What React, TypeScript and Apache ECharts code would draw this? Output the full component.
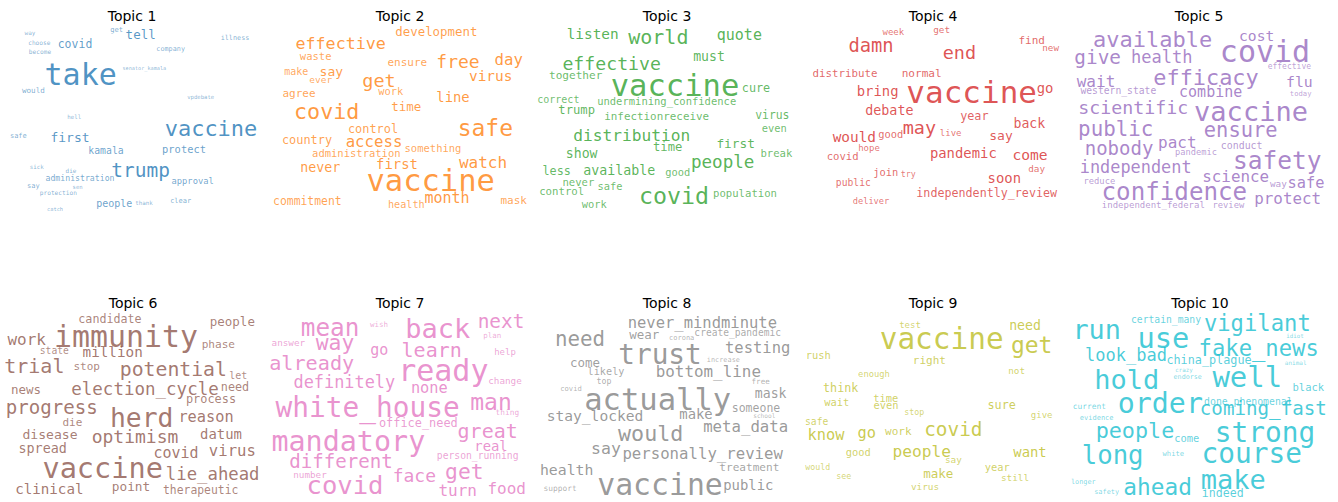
import React, { useEffect, useRef } from "react";
import * as echarts from "echarts";

type W = [string, number, number, number];

// word, x, y (layout units of each panel), weight (font px)
const topic1Words: W[] = [
  ["way", 60, 96, 6], ["choose", 88, 127, 6.2], ["become", 90, 153, 6.2], ["covid", 195, 132, 11.5],
  ["get", 320, 88, 7.2], ["tell", 392, 102, 12.5], ["company", 482, 148, 6.8], ["illness", 675, 113, 6.8],
  ["take", 212, 222, 30], ["senator_kamala", 403, 204, 5.2], ["would", 70, 272, 7.6], ["vpdebate", 572, 290, 5.6],
  ["hell", 193, 352, 5.8], ["vaccine", 603, 385, 22], ["safe", 25, 409, 7], ["first", 180, 412, 13],
  ["kamala", 288, 452, 9.8], ["protect", 522, 447, 10.4], ["sick", 80, 502, 5.8], ["die", 183, 511, 6],
  ["trump", 392, 512, 19.5], ["administration", 210, 534, 8.2], ["approval", 548, 542, 8.8], ["say", 70, 557, 7],
  ["sen", 203, 560, 5.6], ["protection", 145, 577, 6.2], ["people", 313, 610, 10], ["thank", 402, 610, 5.8],
  ["clear", 512, 602, 7], ["catch", 135, 626, 5.4],
];
const topic2Words: W[] = [
  ["development", 505, 93, 12.4], ["effective", 218, 130, 16.7], ["waste", 143, 167, 10.5], ["ensure", 418, 188, 11],
  ["free", 570, 183, 18], ["day", 722, 178, 15.7], ["make", 85, 215, 10], ["say", 190, 213, 13],
  ["ever", 158, 238, 9.5], ["get", 333, 240, 18.5], ["virus", 668, 228, 14.4], ["work", 368, 273, 10.4],
  ["agree", 93, 281, 11], ["line", 555, 290, 13.9], ["covid", 176, 333, 21.7], ["time", 415, 318, 12.5],
  ["safe", 652, 385, 23], ["control", 315, 387, 11.9], ["country", 117, 421, 11.9], ["access", 318, 425, 15.7],
  ["something", 495, 443, 10.5], ["administration", 265, 458, 10.5], ["never", 157, 503, 13.3], ["first", 387, 493, 13.9],
  ["watch", 645, 488, 16], ["vaccine", 488, 542, 30.5], ["month", 537, 595, 15], ["commitment", 118, 603, 11.4],
  ["health", 415, 612, 10.2], ["mask", 737, 600, 11],
];
const topic3Words: W[] = [
  ["listen", 188, 103, 14.4], ["world", 385, 112, 20], ["quote", 628, 106, 15], ["must", 537, 170, 13.2],
  ["effective", 245, 190, 18.2], ["together", 137, 225, 11.1], ["vaccine", 435, 255, 30.5], ["cure", 678, 265, 11.8],
  ["correct", 85, 297, 10], ["undermining_confidence", 410, 302, 10.5], ["trump", 140, 331, 12.2], ["infectionreceive", 380, 350, 10.9],
  ["virus", 727, 345, 11.4], ["even", 733, 385, 10.4], ["distribution", 305, 405, 16.2], ["time", 413, 440, 12.2],
  ["first", 617, 430, 12.8], ["show", 155, 460, 13.2], ["break", 739, 460, 10.6], ["people", 578, 487, 17.6],
  ["less", 80, 513, 11.8], ["available", 268, 512, 13.3], ["good", 443, 515, 10.4], ["never", 145, 546, 10.6],
  ["safe", 240, 558, 10.4], ["control", 95, 575, 10.7], ["covid", 432, 585, 23.3], ["population", 645, 580, 10.6],
  ["work", 193, 613, 10.4],
];
const topic4Words: W[] = [
  ["week", 295, 97, 9], ["get", 440, 88, 9.3], ["find", 710, 122, 11], ["new", 767, 143, 9.3],
  ["damn", 228, 135, 18.8], ["end", 493, 157, 18.5], ["distribute", 150, 221, 10.8], ["normal", 380, 221, 11.1],
  ["bring", 248, 272, 13.9], ["vaccine", 530, 275, 31], ["go", 750, 263, 13.9], ["debate", 283, 332, 13.4],
  ["year", 538, 348, 11.8], ["may", 373, 382, 18.5], ["back", 703, 370, 13.2], ["would", 178, 410, 14.4],
  ["good", 287, 402, 10.4], ["live", 467, 400, 9], ["say", 618, 405, 13], ["hope", 222, 444, 9],
  ["covid", 143, 467, 10.6], ["pandemic", 505, 458, 13.9], ["come", 705, 462, 14.6], ["day", 725, 506, 9.3],
  ["join", 272, 515, 10.4], ["try", 340, 522, 8.3], ["soon", 628, 535, 13.9], ["public", 175, 548, 9.7],
  ["independently_review", 575, 580, 11.7], ["deliver", 228, 602, 8.7],
];
const topic5Words: W[] = [
  ["available", 278, 117, 22], ["cost", 590, 105, 14.6], ["covid", 615, 155, 30], ["give", 113, 173, 19.4],
  ["health", 305, 172, 17], ["effective", 688, 198, 8], ["efficacy", 438, 233, 21.9], ["wait", 108, 243, 16],
  ["flu", 718, 245, 14.8], ["western_state", 175, 272, 9.7], ["combine", 452, 277, 15], ["today", 722, 281, 7.2],
  ["scientific", 220, 322, 18.3], ["vaccine", 573, 335, 27], ["public", 167, 388, 20.8], ["ensure", 542, 390, 20.4],
  ["pact", 352, 427, 16], ["nobody", 177, 445, 19], ["conduct", 545, 435, 9.9], ["pandemic", 408, 456, 8.7],
  ["safety", 652, 480, 24.5], ["independent", 227, 502, 16.9], ["science", 527, 530, 15.9], ["reduce", 118, 543, 8.8],
  ["way", 655, 550, 9.3], ["safe", 738, 550, 15.3], ["confidence", 343, 575, 24.2], ["protect", 683, 595, 15.9],
  ["independent_federal", 280, 615, 9], ["review", 505, 615, 8.8],
];
const topic6Words: W[] = [
  ["candidate", 330, 87, 11.7], ["people", 697, 95, 12.5], ["immunity", 378, 138, 29.9], ["work", 80, 147, 16],
  ["phase", 655, 163, 11.1], ["state", 163, 180, 9.7], ["million", 338, 185, 14.3], ["trial", 103, 228, 20],
  ["stop", 260, 230, 11], ["potential", 520, 238, 19.8], ["let", 715, 255, 10], ["news", 78, 298, 12.5],
  ["election_cycle", 435, 298, 17.5], ["need", 705, 291, 11.8], ["process", 633, 328, 11.9], ["progress", 155, 353, 19.1],
  ["herd", 425, 382, 26.4], ["reason", 618, 380, 15.3], ["die", 217, 397, 11], ["disease", 150, 433, 13.1],
  ["optimism", 405, 440, 18], ["datum", 663, 432, 13.9], ["spread", 128, 475, 13.4], ["covid", 528, 488, 15],
  ["virus", 697, 483, 15.6], ["vaccine", 308, 535, 28.6], ["lie_ahead", 638, 553, 17.3], ["clinical", 148, 597, 14.2],
  ["point", 393, 588, 12.8], ["therapeutic", 602, 600, 11.4],
];
const topic7Words: W[] = [
  ["mean", 195, 112, 24.3], ["wish", 342, 103, 7.5], ["back", 518, 115, 27], ["next", 708, 95, 19.4],
  ["answer", 70, 157, 9.3], ["way", 210, 157, 21.3], ["plan", 682, 136, 7.5], ["go", 343, 180, 15],
  ["learn", 500, 180, 20], ["help", 720, 187, 9], ["already", 140, 218, 20.2], ["ready", 535, 240, 30],
  ["definitely", 238, 277, 16.9], ["change", 720, 272, 9.3], ["none", 493, 295, 15.3], ["white_house", 308, 353, 27.8],
  ["man", 678, 335, 23], ["thing", 727, 368, 7.8], ["office_need", 460, 400, 11.9], ["great", 668, 423, 20],
  ["mandatory", 250, 455, 28.4], ["real", 678, 468, 13.9], ["person_running", 638, 497, 9.7], ["different", 228, 513, 19.1],
  ["number", 135, 552, 9.3], ["face", 448, 555, 18], ["get", 598, 545, 21.3], ["covid", 240, 585, 25.6],
  ["turn", 578, 600, 16], ["food", 725, 595, 16],
];
const topic8Words: W[] = [
  ["never_mindminute", 517, 100, 15.5], ["need", 150, 148, 20.8], ["wear", 343, 133, 12.5], ["corona", 455, 143, 7],
  ["create_pandemic", 623, 128, 9.6], ["trust", 390, 193, 27.8], ["testing", 683, 173, 15.5], ["come", 165, 217, 12.5],
  ["increase", 580, 209, 6.9], ["likely", 228, 245, 10.2], ["bottom_line", 535, 243, 15.9], ["top", 222, 272, 8.3],
  ["free", 692, 275, 7.6], ["covid", 123, 294, 7.2], ["actually", 383, 328, 30.5], ["mask", 722, 310, 13.2],
  ["someone", 678, 353, 11.5], ["stay_locked", 195, 375, 14.6], ["make", 498, 372, 13.9], ["school", 703, 377, 6.2],
  ["meta_data", 647, 410, 15.7], ["would", 362, 430, 21.7], ["say", 228, 475, 16.5], ["personally_review", 518, 490, 15.7],
  ["health", 110, 537, 14.8], ["treatment", 658, 532, 11.1], ["vaccine", 390, 583, 29.8], ["public", 655, 585, 13.9],
  ["support", 90, 595, 7.9],
];
const topic9Words: W[] = [
  ["test", 345, 105, 9], ["vaccine", 440, 148, 29.4], ["need", 690, 107, 13.2], ["get", 710, 165, 23],
  ["rush", 70, 195, 10.4], ["right", 403, 212, 11], ["enough", 237, 253, 8.8], ["not", 665, 240, 9.3],
  ["think", 137, 293, 11.7], ["time", 272, 325, 10.4], ["wait", 125, 336, 10.4], ["even", 273, 346, 10.4],
  ["sure", 620, 345, 11.8], ["stop", 358, 365, 8.3], ["give", 740, 376, 9], ["safe", 65, 395, 9.7],
  ["know", 93, 435, 15.3], ["go", 215, 430, 15.3], ["work", 310, 423, 11], ["covid", 475, 418, 19.4],
  ["good", 190, 485, 10.4], ["people", 380, 483, 16.2], ["want", 705, 485, 13.9], ["say", 475, 508, 9.3],
  ["would", 68, 530, 8.3], ["make", 430, 550, 12.5], ["year", 607, 530, 10.4], ["see", 146, 557, 8.3],
  ["still", 660, 563, 9.4], ["virus", 390, 588, 9.4],
];
const topic10Words: W[] = [
  ["certain_many", 318, 88, 9.7], ["run", 110, 118, 26.9], ["use", 310, 143, 28.7], ["vigilant", 592, 98, 22.2],
  ["idiot", 705, 137, 5.8], ["fake_news", 596, 173, 22.2], ["look_bad", 198, 195, 17], ["china_plague", 447, 210, 11.8],
  ["animal", 707, 218, 6], ["crazy", 372, 240, 5.8], ["hold", 200, 268, 27], ["well", 562, 262, 29],
  ["endorse", 383, 262, 6.7], ["black", 745, 290, 10.5], ["done_phenomenal", 565, 334, 9.8], ["current", 88, 349, 7.9],
  ["order", 301, 339, 28.3], ["coming_fast", 610, 354, 19.2], ["evidence", 110, 385, 7], ["people", 225, 420, 21.8],
  ["strong", 615, 428, 27.8], ["come", 380, 445, 10.4], ["long", 158, 495, 25.7], ["white", 340, 490, 7.2],
  ["course", 575, 490, 27.8], ["longer", 70, 576, 6.9], ["make", 520, 568, 27], ["ahead", 293, 592, 22.8],
  ["safety", 140, 606, 6.9], ["indeed", 488, 608, 11.6],
];

const topicTitles = ["Topic 1", "Topic 2", "Topic 3", "Topic 4", "Topic 5", "Topic 6", "Topic 7", "Topic 8", "Topic 9", "Topic 10"];
const topicWords = [topic1Words, topic2Words, topic3Words, topic4Words, topic5Words, topic6Words, topic7Words, topic8Words, topic9Words, topic10Words];
const palette = ["#1f77b4", "#ff7f0e", "#2ca02c", "#d62728", "#9467bd", "#8c564b", "#e377c2", "#7f7f7f", "#bcbd22", "#17becf"];

// panel layout boxes (px): left, top, width, height
const panels: [number, number, number, number][] = [
  [10, 0, 265, 230], [268, 0, 265, 230], [530, 0, 265, 230], [795, 0, 265, 230], [1060, 0, 270, 230],
  [0, 290, 268, 212], [265, 290, 268, 212], [530, 290, 268, 212], [795, 290, 268, 212], [1060, 290, 275, 212],
];
const titleCenters: [number, number][] = [
  [132, 16], [400, 16], [667, 16], [933, 16], [1199, 16],
  [133, 303], [400, 303], [667, 303], [933, 303], [1200, 303],
];

const FONT = '"DejaVu Sans Mono", "Liberation Mono", monospace';

function hexToRgba(hex: string, a: number) {
  const n = parseInt(hex.slice(1), 16);
  return `rgba(${(n >> 16) & 255},${(n >> 8) & 255},${n & 255},${a.toFixed(3)})`;
}

export default function App() {
  const ref = useRef<HTMLDivElement>(null);
  useEffect(() => {
    if (!ref.current) return;
    const chart = echarts.init(ref.current, undefined, { renderer: "svg" });
    const grid = panels.map(([l, t, w, h]) => ({ left: l, top: t, width: w, height: h, show: false }));
    const xAxis = panels.map(([, , w], i) => ({ type: "value", gridIndex: i, min: 0, max: w * 3, show: false }));
    const yAxis = panels.map(([, , , h], i) => ({ type: "value", gridIndex: i, min: 0, max: h * 3, inverse: true, show: false }));
    const series = topicWords.map((words, i) => ({
      type: "scatter",
      xAxisIndex: i,
      yAxisIndex: i,
      symbolSize: 1,
      itemStyle: { color: "rgba(0,0,0,0)" },
      silent: true,
      data: words.map(([word, x, y, wt]) => {
        const a = Math.min(1, 0.5 + wt / 28);
        return {
          value: [x, y],
          label: {
            show: true,
            position: "inside",
            formatter: word,
            fontFamily: FONT,
            fontSize: wt,
            lineHeight: wt,
            color: hexToRgba(palette[i], a),
            align: "center",
            verticalAlign: "middle",
          },
        };
      }),
    }));
    const graphic = topicTitles.map((t, i) => ({
      type: "text",
      x: titleCenters[i][0],
      y: titleCenters[i][1],
      style: {
        text: t,
        fill: "#000",
        font: '14px "DejaVu Sans", sans-serif',
        textAlign: "center",
        textVerticalAlign: "middle",
      },
    }));
    chart.setOption({
      animation: false,
      backgroundColor: "#fff",
      grid,
      xAxis,
      yAxis,
      series,
      graphic,
    } as any);
    return () => chart.dispose();
  }, []);
  return <div ref={ref} style={{ position: "fixed", left: 0, top: 0, width: 1338, height: 502 }} />;
}
